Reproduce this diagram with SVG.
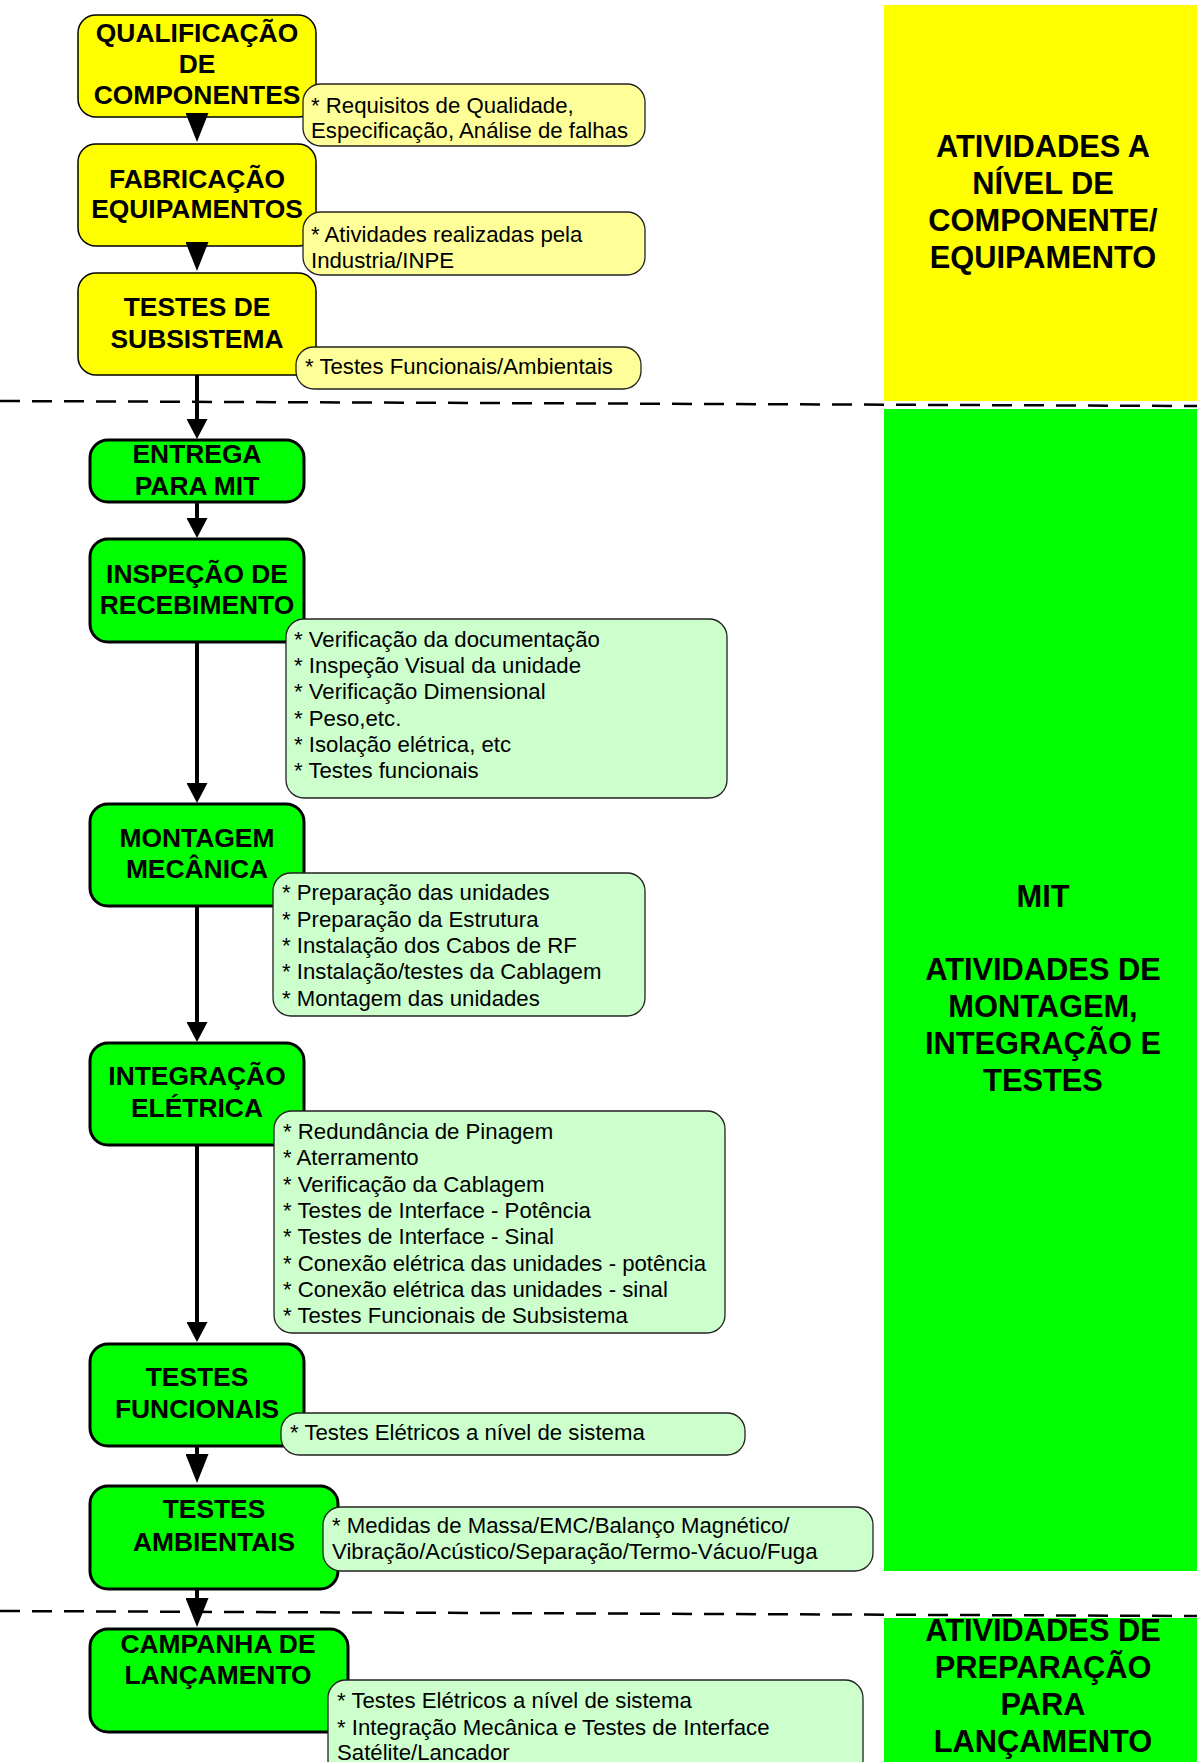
<svg xmlns="http://www.w3.org/2000/svg" width="1197" height="1762" viewBox="0 0 1197 1762">
<defs>
<style>
.yb{fill:#FFFF00;stroke:#000;stroke-width:1.5}
.gb{fill:#00FF00;stroke:#000;stroke-width:3}
.yc{fill:#FFFF99;stroke:#222;stroke-width:1.3}
.gc{fill:#CCFFCC;stroke:#222;stroke-width:1.3}
.bt{font-family:"Liberation Sans",Arial,sans-serif;font-weight:bold;font-size:26.4px;fill:#000;text-anchor:middle}
.pt{font-family:"Liberation Sans",Arial,sans-serif;font-weight:bold;font-size:30.8px;fill:#000;text-anchor:middle}
.ct{font-family:"Liberation Sans",Arial,sans-serif;font-size:22.2px;fill:#000}
.cn{stroke:#000;stroke-width:4;fill:none}
.dash{stroke:#000;stroke-width:2.5;stroke-dasharray:20 12;fill:none}
</style>
<marker id="ahL" markerUnits="userSpaceOnUse" viewBox="0 0 29 23" markerWidth="29" markerHeight="23" refX="21" refY="11.5" orient="auto"><path d="M0,0 L29,11.5 L0,23 z" fill="#000"/></marker>
<marker id="ahS" markerUnits="userSpaceOnUse" viewBox="0 0 20 21" markerWidth="20" markerHeight="21" refX="12" refY="10.5" orient="auto"><path d="M0,0 L20,10.5 L0,21 z" fill="#000"/></marker>
</defs>
<rect width="1197" height="1762" fill="#fff"/>

<g id="panels">
<rect x="884" y="5" width="313" height="396" fill="#FFFF00"/>
<rect x="884" y="409" width="313" height="1162" fill="#00FF00"/>
<rect x="884" y="1618" width="313" height="144" fill="#00FF00"/>
<text class="pt"><tspan x="1043" y="157">ATIVIDADES A</tspan><tspan x="1043" y="194">NÍVEL DE</tspan><tspan x="1043" y="231">COMPONENTE/</tspan><tspan x="1043" y="268">EQUIPAMENTO</tspan></text>
<text class="pt"><tspan x="1043" y="907">MIT</tspan><tspan x="1043" y="980">ATIVIDADES DE</tspan><tspan x="1043" y="1017">MONTAGEM,</tspan><tspan x="1043" y="1054">INTEGRAÇÃO E</tspan><tspan x="1043" y="1091">TESTES</tspan></text>
<text class="pt"><tspan x="1043" y="1641">ATIVIDADES DE</tspan><tspan x="1043" y="1678">PREPARAÇÃO</tspan><tspan x="1043" y="1715">PARA</tspan><tspan x="1043" y="1752">LANÇAMENTO</tspan></text>
</g>

<g id="separators">
<line class="dash" x1="0" y1="401" x2="1197" y2="406"/>
<line class="dash" x1="0" y1="1611" x2="1197" y2="1616"/>
</g>

<g id="n-qualificacao">
<rect class="yb" x="78" y="15" width="238" height="102" rx="18"/>
<text class="bt"><tspan x="197" y="42">QUALIFICAÇÃO</tspan><tspan x="197" y="73">DE</tspan><tspan x="197" y="104">COMPONENTES</tspan></text>
<rect class="yc" x="303" y="84" width="342" height="62" rx="18"/>
<text class="ct"><tspan x="311" y="113">* Requisitos de Qualidade,</tspan><tspan x="311" y="138">Especificação, Análise de falhas</tspan></text>
</g>

<g id="n-fabricacao">
<rect class="yb" x="78" y="144" width="238" height="102" rx="18"/>
<text class="bt"><tspan x="197" y="188">FABRICAÇÃO</tspan><tspan x="197" y="218">EQUIPAMENTOS</tspan></text>
<rect class="yc" x="303" y="212" width="342" height="63" rx="18"/>
<text class="ct"><tspan x="311" y="242">* Atividades realizadas pela</tspan><tspan x="311" y="268">Industria/INPE</tspan></text>
</g>

<g id="n-testes-subsistema">
<rect class="yb" x="78" y="273" width="238" height="102" rx="18"/>
<text class="bt"><tspan x="197" y="316">TESTES DE</tspan><tspan x="197" y="348">SUBSISTEMA</tspan></text>
<rect class="yc" x="296" y="347" width="345" height="42" rx="18"/>
<text class="ct" x="305" y="374">* Testes Funcionais/Ambientais</text>
</g>

<g id="n-entrega">
<rect class="gb" x="90" y="440" width="214" height="62" rx="18"/>
<text class="bt"><tspan x="197" y="463">ENTREGA</tspan><tspan x="197" y="495">PARA MIT</tspan></text>
</g>

<g id="n-inspecao">
<rect class="gb" x="90" y="539" width="214" height="103" rx="18"/>
<text class="bt"><tspan x="197" y="583">INSPEÇÃO DE</tspan><tspan x="197" y="614">RECEBIMENTO</tspan></text>
<rect class="gc" x="286" y="619" width="441" height="179" rx="18"/>
<text class="ct"><tspan x="294" y="647">* Verificação da documentação</tspan><tspan x="294" y="673">* Inspeção Visual da unidade</tspan><tspan x="294" y="699">* Verificação Dimensional</tspan><tspan x="294" y="726">* Peso,etc.</tspan><tspan x="294" y="752">* Isolação elétrica, etc</tspan><tspan x="294" y="778">* Testes funcionais</tspan></text>
</g>

<g id="n-montagem">
<rect class="gb" x="90" y="804" width="214" height="102" rx="18"/>
<text class="bt"><tspan x="197" y="847">MONTAGEM</tspan><tspan x="197" y="878">MECÂNICA</tspan></text>
<rect class="gc" x="273" y="873" width="372" height="143" rx="18"/>
<text class="ct"><tspan x="282" y="900">* Preparação das unidades</tspan><tspan x="282" y="927">* Preparação da Estrutura</tspan><tspan x="282" y="953">* Instalação dos Cabos de RF</tspan><tspan x="282" y="979">* Instalação/testes da Cablagem</tspan><tspan x="282" y="1006">* Montagem das unidades</tspan></text>
</g>

<g id="n-integracao">
<rect class="gb" x="90" y="1043" width="214" height="102" rx="18"/>
<text class="bt"><tspan x="197" y="1085">INTEGRAÇÃO</tspan><tspan x="197" y="1117">ELÉTRICA</tspan></text>
<rect class="gc" x="274" y="1111" width="451" height="222" rx="18"/>
<text class="ct"><tspan x="283" y="1139">* Redundância de Pinagem</tspan><tspan x="283" y="1165">* Aterramento</tspan><tspan x="283" y="1192">* Verificação da Cablagem</tspan><tspan x="283" y="1218">* Testes de Interface - Potência</tspan><tspan x="283" y="1244">* Testes de Interface - Sinal</tspan><tspan x="283" y="1271">* Conexão elétrica das unidades - potência</tspan><tspan x="283" y="1297">* Conexão elétrica das unidades - sinal</tspan><tspan x="283" y="1323">* Testes Funcionais de Subsistema</tspan></text>
</g>

<g id="n-funcionais">
<rect class="gb" x="90" y="1344" width="214" height="102" rx="18"/>
<text class="bt"><tspan x="197" y="1386">TESTES</tspan><tspan x="197" y="1418">FUNCIONAIS</tspan></text>
<rect class="gc" x="281" y="1413" width="464" height="42" rx="18"/>
<text class="ct" x="290" y="1440">* Testes Elétricos a nível de sistema</text>
</g>

<g id="n-ambientais">
<rect class="gb" x="90" y="1486" width="248" height="103" rx="18"/>
<text class="bt"><tspan x="214" y="1518">TESTES</tspan><tspan x="214" y="1551">AMBIENTAIS</tspan></text>
<rect class="gc" x="323" y="1507" width="550" height="64" rx="18"/>
<text class="ct"><tspan x="332" y="1533">* Medidas de Massa/EMC/Balanço Magnético/</tspan><tspan x="332" y="1559">Vibração/Acústico/Separação/Termo-Vácuo/Fuga</tspan></text>
</g>

<g id="n-campanha">
<rect class="gb" x="90" y="1629" width="258" height="103" rx="18"/>
<text class="bt"><tspan x="218" y="1653">CAMPANHA DE</tspan><tspan x="218" y="1684">LANÇAMENTO</tspan></text>
<rect class="gc" x="328" y="1680" width="535" height="110" rx="18"/>
<text class="ct"><tspan x="337" y="1708">* Testes Elétricos a nível de sistema</tspan><tspan x="337" y="1735">* Integração Mecânica e Testes de Interface</tspan><tspan x="337" y="1760">Satélite/Lancador</tspan></text>
</g>

<g id="connectors">
<line class="cn" x1="197" y1="117" x2="197" y2="134" marker-end="url(#ahL)"/>
<line class="cn" x1="197" y1="246" x2="197" y2="263" marker-end="url(#ahL)"/>
<line class="cn" x1="197" y1="375" x2="197" y2="431" marker-end="url(#ahS)"/>
<line class="cn" x1="197" y1="502" x2="197" y2="530" marker-end="url(#ahS)"/>
<line class="cn" x1="197" y1="642" x2="197" y2="795" marker-end="url(#ahS)"/>
<line class="cn" x1="197" y1="906" x2="197" y2="1034" marker-end="url(#ahS)"/>
<line class="cn" x1="197" y1="1145" x2="197" y2="1334" marker-end="url(#ahS)"/>
<line class="cn" x1="197" y1="1446" x2="197" y2="1475" marker-end="url(#ahL)"/>
<line class="cn" x1="197" y1="1589" x2="197" y2="1619" marker-end="url(#ahL)"/>
</g>
</svg>
